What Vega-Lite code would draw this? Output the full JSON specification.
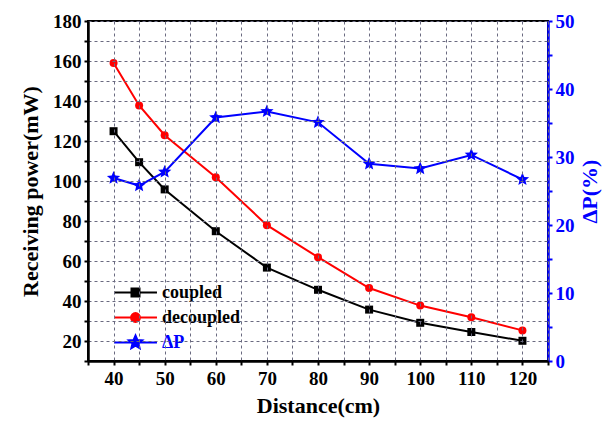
{
  "$schema": "https://vega.github.io/schema/vega-lite/v6.json",
  "width": 460,
  "height": 340,
  "autosize": {"type": "none"},
  "padding": {"left": 88, "top": 21, "right": 55, "bottom": 60},
  "background": "white",
  "config": {
    "view": {"stroke": "black", "strokeWidth": 2},
    "font": "Liberation Serif",
    "axis": {
      "labelFont": "Liberation Serif",
      "labelFontWeight": "bold",
      "labelFontSize": 19,
      "titleFont": "Liberation Serif",
      "titleFontWeight": "bold",
      "titleFontSize": 22,
      "labelOverlap": false
    }
  },
  "data": {
    "values": [
      {"distance": 40, "series": "coupled", "value": 124.9},
      {"distance": 45, "series": "coupled", "value": 109.4},
      {"distance": 50, "series": "coupled", "value": 95.8},
      {"distance": 60, "series": "coupled", "value": 74.9},
      {"distance": 70, "series": "coupled", "value": 56.7},
      {"distance": 80, "series": "coupled", "value": 45.6},
      {"distance": 90, "series": "coupled", "value": 35.7},
      {"distance": 100, "series": "coupled", "value": 29.1},
      {"distance": 110, "series": "coupled", "value": 24.5},
      {"distance": 120, "series": "coupled", "value": 20.1},
      {"distance": 40, "series": "decoupled", "value": 159},
      {"distance": 45, "series": "decoupled", "value": 137.8},
      {"distance": 50, "series": "decoupled", "value": 122.9},
      {"distance": 60, "series": "decoupled", "value": 101.9},
      {"distance": 70, "series": "decoupled", "value": 77.9},
      {"distance": 80, "series": "decoupled", "value": 61.9},
      {"distance": 90, "series": "decoupled", "value": 46.5},
      {"distance": 100, "series": "decoupled", "value": 37.7},
      {"distance": 110, "series": "decoupled", "value": 31.9},
      {"distance": 120, "series": "decoupled", "value": 25.3},
      {"distance": 40, "series": "ΔP", "value": 26.9},
      {"distance": 45, "series": "ΔP", "value": 25.8},
      {"distance": 50, "series": "ΔP", "value": 27.8},
      {"distance": 60, "series": "ΔP", "value": 35.8},
      {"distance": 70, "series": "ΔP", "value": 36.7},
      {"distance": 80, "series": "ΔP", "value": 35.1},
      {"distance": 90, "series": "ΔP", "value": 29.0},
      {"distance": 100, "series": "ΔP", "value": 28.3},
      {"distance": 110, "series": "ΔP", "value": 30.3},
      {"distance": 120, "series": "ΔP", "value": 26.7}
    ]
  },
  "layer": [
    {
      "transform": [{"filter": "datum.series !== 'ΔP'"}],
      "layer": [
        {
          "mark": {"type": "line", "strokeWidth": 2},
          "encoding": {
            "x": {
              "field": "distance", "type": "quantitative",
              "scale": {"domain": [35, 125], "nice": false, "zero": false},
              "axis": {
                "orient": "bottom",
                "tickCount": 18,
                "labelExpr": "datum.value % 10 === 0 && datum.value >= 40 && datum.value <= 120 ? datum.label : ''",
                "ticks": true,
                "tickSize": 4,
                "tickWidth": 2,
                "tickColor": "black",
                "domainColor": "black",
                "domainWidth": 2.5,
                "labelColor": "black",
                "labelPadding": 4,
                "title": "Distance(cm)",
                "titleColor": "black",
                "titlePadding": 7,
                "grid": true,
                "gridColor": "#6a6a80",
                "gridDash": [3, 3],
                "gridOpacity": 1,
                "gridWidth": 1,
                "zindex": 1
              }
            },
            "y": {
              "field": "value", "type": "quantitative",
              "scale": {"domain": [10, 180], "nice": false, "zero": false},
              "axis": {
                "orient": "left",
                "tickCount": 17,
                "labelExpr": "datum.value % 20 === 0 ? datum.label : ''",
                "ticks": true,
                "tickSize": 4,
                "tickWidth": 2,
                "tickColor": "black",
                "domainColor": "black",
                "domainWidth": 2.5,
                "labelColor": "black",
                "labelPadding": 3,
                "title": "Receiving power(mW)",
                "titleColor": "black",
                "titlePadding": 10,
                "grid": true,
                "gridColor": "#6a6a80",
                "gridDash": [3, 3],
                "gridOpacity": 1,
                "gridWidth": 1,
                "zindex": 1
              }
            },
            "color": {
              "field": "series", "type": "nominal",
              "scale": {"domain": ["coupled", "decoupled", "ΔP"], "range": ["#000000", "#ff0000", "#0000ff"]},
              "legend": {
                "title": null,
                "orient": "none",
                "legendX": 32,
                "legendY": 256,
                "padding": 0,
                "symbolType": {"expr": "datum.value === 'coupled' ? 'M-1.5,0H1.5M-0.28,-0.28H0.28V0.28H-0.28Z' : datum.value === 'decoupled' ? 'M-1.5,0H1.5M0.31,0A0.31,0.31 0 1,1 -0.31,0A0.31,0.31 0 1,1 0.31,0Z' : 'M-1.5,0H1.5M0,-0.49L0.1296,-0.1784L0.466,-0.1514L0.2097,0.0681L0.288,0.3964L0,0.2205L-0.288,0.3964L-0.2097,0.0681L-0.466,-0.1514L-0.1296,-0.1784Z'"},
                "symbolSize": 820,
                "symbolStrokeWidth": 2,
                "symbolOpacity": 1,
                "symbolFillColor": {"expr": "datum.value === 'coupled' ? '#000000' : datum.value === 'decoupled' ? '#ff0000' : '#0000ff'"},
                "symbolStrokeColor": {"expr": "datum.value === 'coupled' ? '#000000' : datum.value === 'decoupled' ? '#ff0000' : '#0000ff'"},
                "labelColor": {"expr": "datum.value === 'ΔP' ? '#0000ff' : '#000000'"},
                "labelFont": "Liberation Serif",
                "labelFontWeight": "bold",
                "labelFontSize": 18,
                "labelOffset": 11,
                "rowPadding": -6
              }
            }
          }
        },
        {
          "mark": {"type": "point", "filled": true, "opacity": 1, "size": 64},
          "encoding": {
            "x": {"field": "distance", "type": "quantitative"},
            "y": {"field": "value", "type": "quantitative"},
            "color": {"field": "series", "type": "nominal", "legend": null},
            "shape": {
              "field": "series", "type": "nominal",
              "scale": {"domain": ["coupled", "decoupled"], "range": ["square", "circle"]},
              "legend": null
            }
          }
        }
      ]
    },
    {
      "transform": [{"filter": "datum.series === 'ΔP'"}],
      "layer": [
        {
          "mark": {"type": "line", "strokeWidth": 2},
          "encoding": {
            "x": {"field": "distance", "type": "quantitative"},
            "y": {
              "field": "value", "type": "quantitative",
              "scale": {"domain": [0, 50], "nice": false, "zero": false},
              "axis": {
                "orient": "right",
                "tickCount": 10,
                "labelExpr": "datum.value % 10 === 0 ? datum.label : ''",
                "ticks": true,
                "tickSize": 4,
                "tickWidth": 2,
                "tickColor": "#0000ff",
                "domainColor": "#0000ff",
                "domainWidth": 2.5,
                "labelColor": "#0000ff",
                "labelPadding": 3,
                "title": "ΔP(%)",
                "titleColor": "#0000ff",
                "titleAngle": 270,
                "titlePadding": 27,
                "grid": false
              }
            },
            "color": {"field": "series", "type": "nominal", "legend": null}
          }
        },
        {
          "mark": {"type": "point", "filled": true, "opacity": 1, "size": 196},
          "encoding": {
            "x": {"field": "distance", "type": "quantitative"},
            "y": {"field": "value", "type": "quantitative"},
            "color": {"field": "series", "type": "nominal", "legend": null},
            "shape": {
              "field": "series", "type": "nominal",
              "scale": {"domain": ["ΔP"], "range": ["M0,-1L0.2645,-0.364L0.951,-0.309L0.428,0.139L0.5878,0.809L0,0.45L-0.5878,0.809L-0.428,0.139L-0.951,-0.309L-0.2645,-0.364Z"]},
              "legend": null
            }
          }
        }
      ]
    }
  ],
  "resolve": {"scale": {"y": "independent", "shape": "independent"}}
}
